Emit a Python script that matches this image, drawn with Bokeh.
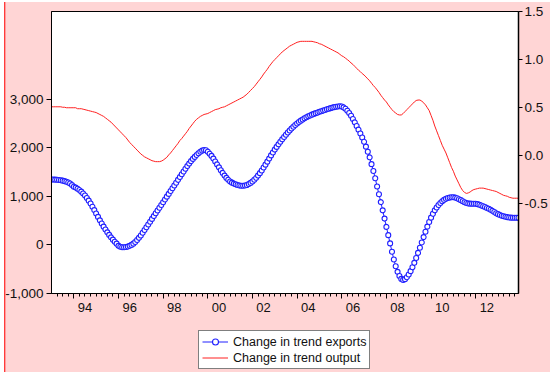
from bokeh.plotting import figure
from bokeh.layouts import column
from bokeh.models import Range1d, LinearAxis, FixedTicker, NumeralTickFormatter, Legend, LegendItem
from bokeh.embed import file_html
from bokeh.resources import INLINE

# ---------------- data (monthly, 1993M01 .. 2013M12) ----------------
start_year = 1993
n_years = 21

exports = [
    # 1993
    1345, 1344, 1342, 1339, 1335, 1329, 1321, 1311, 1298, 1282, 1262, 1230,
    # 1994
    1195, 1178, 1155, 1128, 1095, 1058, 1015, 965, 910, 850, 785, 715,
    # 1995
    645, 575, 505, 440, 375, 315, 258, 205, 155, 108, 65, 25,
    # 1996
    -20, -38, -48, -50, -45, -35, -20, 0, 25, 60, 100, 145,
    # 1997
    192, 249, 306, 363, 420, 477, 534, 592, 649, 706, 763, 820,
    # 1998
    877, 934, 992, 1049, 1107, 1164, 1222, 1279, 1337, 1394, 1452, 1509,
    # 1999
    1566, 1620, 1672, 1722, 1768, 1810, 1850, 1885, 1915, 1938, 1950, 1945,
    # 2000
    1915, 1875, 1830, 1775, 1715, 1655, 1595, 1535, 1480, 1425, 1378, 1338,
    # 2001
    1305, 1280, 1260, 1245, 1232, 1222, 1217, 1217, 1222, 1232, 1250, 1275,
    # 2002
    1305, 1340, 1380, 1425, 1475, 1530, 1590, 1650, 1712, 1775, 1840, 1900,
    # 2003
    1960, 2015, 2068, 2120, 2170, 2218, 2265, 2310, 2352, 2392, 2430, 2465,
    # 2004
    2497, 2527, 2555, 2580, 2603, 2624, 2643, 2661, 2678, 2694, 2709, 2723,
    # 2005
    2736, 2749, 2762, 2775, 2788, 2800, 2812, 2823, 2833, 2841, 2847, 2850,
    # 2006
    2845, 2828, 2800, 2760, 2712, 2655, 2590, 2520, 2445, 2370, 2290, 2210,
    # 2007
    2120, 2020, 1915, 1800, 1660, 1520, 1370, 1200, 1040, 880, 710, 540,
    # 2008
    370, 200, 30, -140, -300, -440, -555, -640, -700, -720, -705, -665,
    # 2009
    -610, -540, -460, -370, -270, -165, -60, 50, 160, 270, 375, 470,
    # 2010
    560, 640, 710, 770, 820, 862, 897, 925, 947, 963, 974, 980,
    # 2011
    980, 972, 958, 940, 920, 898, 878, 862, 852, 848, 847, 847,
    # 2012
    845, 838, 826, 811, 795, 778, 760, 742, 723, 700, 675, 652,
    # 2013
    632, 615, 600, 588, 578, 570, 564, 560, 558, 557, 557, 557,
]

output = [
    # 1993
    0.51, 0.51, 0.51, 0.51, 0.51, 0.51, 0.505, 0.505, 0.50, 0.50, 0.50, 0.50,
    # 1994
    0.50, 0.50, 0.49, 0.49, 0.49, 0.485, 0.48, 0.475, 0.47, 0.465, 0.46, 0.455,
    # 1995
    0.45, 0.44, 0.43, 0.42, 0.41, 0.395, 0.38, 0.365, 0.35, 0.33, 0.31, 0.29,
    # 1996
    0.27, 0.25, 0.23, 0.21, 0.19, 0.165, 0.14, 0.12, 0.10, 0.08, 0.06, 0.04,
    # 1997
    0.02, 0.005, -0.01, -0.02, -0.03, -0.04, -0.05, -0.055, -0.06, -0.06, -0.06, -0.055,
    # 1998
    -0.045, -0.03, -0.015, 0.01, 0.03, 0.055, 0.08, 0.105, 0.13, 0.16, 0.18, 0.205,
    # 1999
    0.23, 0.255, 0.285, 0.31, 0.335, 0.36, 0.38, 0.395, 0.41, 0.42, 0.43, 0.435,
    # 2000
    0.44, 0.45, 0.46, 0.47, 0.48, 0.485, 0.49, 0.50, 0.505, 0.51, 0.52, 0.53,
    # 2001
    0.54, 0.55, 0.56, 0.57, 0.58, 0.59, 0.60, 0.61, 0.625, 0.64, 0.66, 0.68,
    # 2002
    0.70, 0.72, 0.745, 0.77, 0.795, 0.82, 0.85, 0.875, 0.90, 0.93, 0.955, 0.98,
    # 2003
    1.00, 1.02, 1.04, 1.06, 1.08, 1.095, 1.11, 1.125, 1.14, 1.15, 1.16, 1.17,
    # 2004
    1.18, 1.185, 1.19, 1.19, 1.19, 1.19, 1.19, 1.19, 1.19, 1.185, 1.18, 1.175,
    # 2005
    1.165, 1.16, 1.15, 1.14, 1.13, 1.12, 1.11, 1.10, 1.09, 1.08, 1.07, 1.055,
    # 2006
    1.04, 1.03, 1.015, 1.00, 0.985, 0.965, 0.95, 0.93, 0.91, 0.89, 0.875, 0.855,
    # 2007
    0.84, 0.82, 0.80, 0.78, 0.755, 0.73, 0.71, 0.685, 0.66, 0.63, 0.605, 0.58,
    # 2008
    0.56, 0.53, 0.505, 0.48, 0.46, 0.445, 0.43, 0.425, 0.425, 0.44, 0.46, 0.48,
    # 2009
    0.50, 0.52, 0.54, 0.56, 0.575, 0.58, 0.58, 0.57, 0.55, 0.53, 0.50, 0.47,
    # 2010
    0.42, 0.37, 0.31, 0.26, 0.21, 0.16, 0.11, 0.07, 0.03, -0.02, -0.07, -0.12,
    # 2011
    -0.16, -0.21, -0.25, -0.29, -0.33, -0.36, -0.38, -0.39, -0.385, -0.375, -0.36, -0.35,
    # 2012
    -0.345, -0.34, -0.335, -0.335, -0.335, -0.34, -0.345, -0.35, -0.355, -0.36, -0.365, -0.37,
    # 2013
    -0.38, -0.39, -0.40, -0.41, -0.415, -0.42, -0.43, -0.435, -0.44, -0.44, -0.44, -0.44,
]

label_years = [1994, 1996, 1998, 2000, 2002, 2004, 2006, 2008, 2010, 2012]
year_labels = ["94", "96", "98", "00", "02", "04", "06", "08", "10", "12"]
left_ticks = [-1000, 0, 1000, 2000, 3000]
right_ticks = [-0.5, 0.0, 0.5, 1.0, 1.5]

series_names = ["Change in trend exports", "Change in trend output"]

# month positions as decimal years
dates = [start_year + i / 12.0 for i in range(len(exports))]

FONT = "Liberation Sans"
PINK = "#FFD5D5"
BLUE = "#2020ff"
RED = "#ff2020"
EDGE = "#ff3a3a"

W = 550
H_CHART = 328
H_LEG = 44

chart_bg = (
    f"linear-gradient({EDGE}, {EDGE}) 4px 2px / 1.5px 100% no-repeat, "
    f"linear-gradient({PINK}, {PINK}) 5.5px 2px / 100% 100% no-repeat, white"
)
leg_bg = (
    f"linear-gradient({EDGE}, {EDGE}) 4px 0px / 1.5px 100% no-repeat, "
    f"linear-gradient({PINK}, {PINK}) 5.5px 0px / 100% 100% no-repeat, white"
)

# ======================= main chart =======================
chart = figure(
    width=W, height=H_CHART,
    output_backend="svg", toolbar_location=None,
    x_range=Range1d(dates[0], dates[-1]),
    y_range=Range1d(-1000, 4800),
    min_border_left=51, min_border_right=29, min_border_top=11, min_border_bottom=35,
)
chart.extra_y_ranges = {"out": Range1d(-1.43, 1.5)}

chart.border_fill_color = None
chart.styles = {"background": chart_bg}
chart.background_fill_color = "white"
chart.outline_line_color = "black"
chart.outline_line_width = 1
chart.xgrid.visible = False
chart.ygrid.visible = False

# ---- x axis (tick marks) ----
xa = chart.xaxis[0]
xa.ticker = FixedTicker(
    ticks=label_years,
    minor_ticks=[start_year + q / 4.0 for q in range(1, n_years * 4)],
)
xa.major_label_overrides = {y: "" for y in label_years}
xa.major_label_text_font_size = "1px"
xa.major_label_standoff = 0
xa.major_tick_out = 5
xa.major_tick_in = 0
xa.minor_tick_out = 3
xa.minor_tick_in = 0
xa.axis_line_color = "black"
xa.major_tick_line_color = "black"
xa.minor_tick_line_color = "black"

# ---- x axis (year labels centred on the year) ----
label_pos = [y + 0.5 for y in label_years]
xl = LinearAxis(
    ticker=FixedTicker(ticks=label_pos, minor_ticks=[]),
    major_label_overrides={pos: lab for pos, lab in zip(label_pos, year_labels)},
    major_tick_out=0, major_tick_in=0, minor_tick_out=0, minor_tick_in=0,
    axis_line_color=None, major_label_standoff=4,
    major_label_text_font=FONT, major_label_text_font_size="13px",
    major_label_text_color="#111111",
)
chart.add_layout(xl, "below")

# ---- left axis ----
ya = chart.yaxis[0]
ya.ticker = FixedTicker(ticks=left_ticks, minor_ticks=[])
ya.formatter = NumeralTickFormatter(format="0,0")
ya.major_tick_out = 5
ya.major_tick_in = 0
ya.major_label_standoff = 3
ya.major_label_text_font = FONT
ya.major_label_text_font_size = "13.5px"
ya.major_label_text_color = "#111111"
ya.axis_line_color = "black"

# ---- right axis ----
yr = LinearAxis(
    y_range_name="out",
    ticker=FixedTicker(ticks=right_ticks, minor_ticks=[]),
    formatter=NumeralTickFormatter(format="0.0"),
    major_tick_out=4, major_tick_in=0, major_label_standoff=2,
    major_label_text_font=FONT, major_label_text_font_size="13.5px",
    major_label_text_color="#111111",
    axis_line_color="black", axis_line_width=1.5,
)
chart.add_layout(yr, "right")

# ---- series ----
chart.line(dates, output, y_range_name="out", color=RED, line_width=1)
chart.line(dates, exports, color=BLUE, line_width=1)
chart.scatter(dates, exports, marker="circle", size=5,
              line_color=BLUE, line_width=1.1, fill_color="white")

# ======================= legend strip =======================
# same series, drawn outside this strip's (empty) view so only the key shows.
# In the column the strip's frame is aligned with the chart's frame (x = 51).
leg = figure(
    width=W, height=H_LEG,
    output_backend="svg", toolbar_location=None,
    x_range=Range1d(0, 1), y_range=Range1d(0, 1),
    x_axis_location=None, y_axis_location=None,
    min_border=0, min_border_left=0, min_border_right=0,
    min_border_top=0, min_border_bottom=0,
)
leg.border_fill_color = None
leg.background_fill_color = None
leg.styles = {"background": leg_bg}
leg.outline_line_color = None
leg.xgrid.visible = False
leg.ygrid.visible = False

k_exp_line = leg.line(dates, exports, color=BLUE, line_width=1)
k_exp_pts = leg.scatter(dates, exports, marker="circle", size=4.5,
                        line_color=BLUE, line_width=1.1, fill_color="white")
k_out = leg.line(dates, output, color=RED, line_width=1)

legend = Legend(
    items=[
        LegendItem(label=series_names[0], renderers=[k_exp_line, k_exp_pts]),
        LegendItem(label=series_names[1], renderers=[k_out]),
    ],
    location=(147, 3), orientation="vertical",
    label_text_font=FONT, label_text_font_size="12.5px", label_text_color="#111111",
    glyph_width=26, glyph_height=15, label_height=15, label_standoff=5,
    spacing=1, padding=3, margin=0,
    border_line_color="black", border_line_width=1,
    background_fill_color="white", background_fill_alpha=1,
)
leg.add_layout(legend, "center")

p = column(chart, leg, spacing=0)

open("out.html", "w").write(file_html(p, INLINE))
